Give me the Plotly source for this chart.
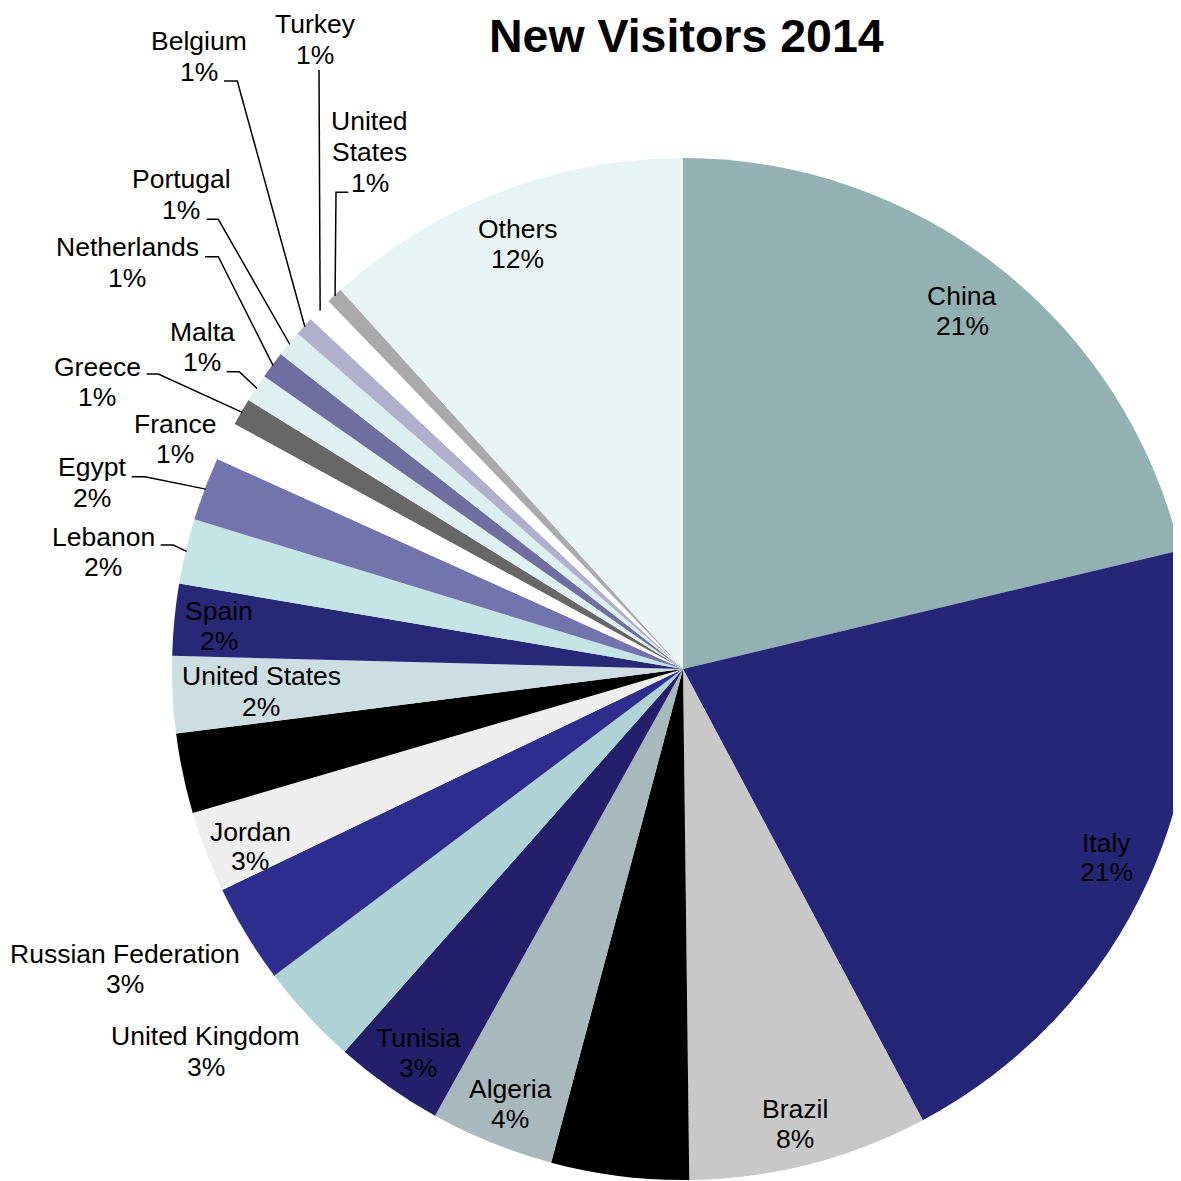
import math
import plotly.graph_objects as go

# ---------------- data ----------------
countries = ["China", "Italy", "Brazil", "Unlabeled A", "Algeria", "Tunisia",
             "United Kingdom", "Russian Federation", "Jordan", "Unlabeled B",
             "United States", "Spain", "Lebanon", "Egypt", "France", "Greece",
             "Malta", "Netherlands", "Portugal", "Belgium", "Turkey",
             "United States", "Others"]
shares = [21.27, 20.96, 7.58, 4.35, 3.91, 3.46,
          3.23, 3.13, 2.57, 2.53,
          2.43, 2.26, 2.06, 2.01, 1.22, 0.86,
          0.89, 0.86, 0.83, 0.61, 0.78,
          0.52, 11.69]
slice_colors = ["#93B0B2", "#262678", "#C8C8C8", "#000000", "#A9B8BC", "#231F6B",
                "#AFD3D5", "#2E2E8E", "#EEEEEE", "#000000",
                "#CCDEE1", "#282879", "#C4E4E6", "#7373AD", "#FFFFFF", "#676767",
                "#E0F0F1", "#6E6EA0", "#DCEEF0", "#B0B0CC", "#FFFFFF",
                "#AAAAAA", "#E8F4F4"]
# how each visible label name is broken into lines (None = no visible label)
label_names = [["China"], ["Italy"], ["Brazil"], None, ["Algeria"], ["Tunisia"],
               ["United Kingdom"], ["Russian Federation"], ["Jordan"], None,
               ["United States"], ["Spain"], ["Lebanon"], ["Egypt"], ["France"], ["Greece"],
               ["Malta"], ["Netherlands"], ["Portugal"], ["Belgium"], ["Turkey"],
               ["United", "States"], ["Others"]]
title_text = "New Visitors 2014"

# ---------------- layout / style ----------------
OFF = 8                                   # page offset of the figure (body margin)
W, H = 1186, 1173                         # figure size (px)
PCX, PCY, R = 683.0, 669.0, 511.0         # pie centre / radius in page px
CX, CY = PCX - OFF, PCY - OFF             # pie centre in figure px
FONT = "Liberation Sans, Arial, sans-serif"
FS = 26.5

# label placement (page px): slice index -> (centre x, baselines of each text line)
label_pos = {
    0: (962, [305, 335.7]),
    1: (1106, [852.3, 881.7]),
    2: (795, [1118, 1148]),
    4: (510, [1098, 1128]),
    5: (418, [1047.7, 1077.7]),
    6: (205.5, [1045.7, 1076]),
    7: (125, [963.3, 993.3]),
    8: (250, [841.7, 870.5]),
    10: (261, [685.7, 716]),
    11: (219, [620, 650]),
    12: (103.3, [546, 576]),
    13: (91.5, [476.7, 507.3]),
    14: (175, [433.3, 463.3]),
    15: (97, [376, 406]),
    16: (202, [341.7, 371.7]),
    17: (127, [256.7, 287.3]),
    18: (181.3, [188.3, 219.3]),
    19: (199, [50.7, 81.7]),
    20: (315, [33, 64]),
    21: (370, [130.7, 161.7, 192.7]),
    22: (517.5, [238.3, 268.3]),
}
# leader lines (page px): slice index -> points starting at label side
leader_pts = {
    12: [(160.7, 545), (173.3, 545)],
    13: [(131.7, 476.7), (145, 476.7)],
    15: [(146.7, 374), (158.3, 374)],
    16: [(226.7, 371.7), (239.3, 371.7)],
    17: [(205, 256.7), (218.3, 256.7)],
    18: [(206.7, 219.3), (218.3, 219.3)],
    19: [(224, 81), (237.3, 81)],
    20: [(319, 70)],
    21: [(348.3, 192.3), (336, 192.3)],
}


def fx(px):
    return (px - OFF) / W


def fy(py):
    return 1 - (py - OFF) / H


total = sum(shares)
pcts = [f"{round(v / total * 100):d}%" for v in shares]

fig = go.Figure(go.Pie(
    labels=[f"{i}:{c}" for i, c in enumerate(countries)],
    values=shares,
    sort=False,
    direction="clockwise",
    rotation=0,
    textinfo="none",
    hoverinfo="skip",
    marker=dict(colors=slice_colors, line=dict(width=0)),
    domain=dict(x=[max(0.0, (CX - R) / W), min(1.0, (CX + R) / W)],
                y=[max(0.0, 1 - (CY + R) / H), min(1.0, 1 - (CY - R) / H)]),
    showlegend=False,
))

annotations = []
for i, pos in label_pos.items():
    x, baselines = pos
    lines = label_names[i] + [pcts[i]]
    for txt, b in zip(lines, baselines):
        annotations.append(dict(
            x=fx(x), y=fy(b - 0.35 * FS), xref="paper", yref="paper",
            text=txt, showarrow=False, xanchor="center", yanchor="middle",
            font=dict(family=FONT, size=FS, color="#000000")))

annotations.append(dict(
    x=fx(687), y=1.0, xref="paper", yref="paper",
    text=f"<b>{title_text}</b>", showarrow=False, xanchor="center", yanchor="top",
    font=dict(family=FONT, size=46.5, color="#000000")))

shapes = []
cum = 0.0
mids = []
for v in shares:
    mids.append(360.0 * (cum + v / 2) / total)
    cum += v
for i, pts in leader_pts.items():
    a = math.radians(mids[i])
    end = (PCX + (R - 1) * math.sin(a), PCY - (R - 1) * math.cos(a))
    allp = pts + [end]
    path = "M " + " L ".join(f"{fx(px):.5f},{fy(py):.5f}" for px, py in allp)
    shapes.append(dict(type="path", path=path, xref="paper", yref="paper",
                       line=dict(color="#000000", width=1.5)))

fig.update_layout(
    width=W, height=H, autosize=False,
    margin=dict(l=0, r=0, t=0, b=0, pad=0),
    paper_bgcolor="#FFFFFF", plot_bgcolor="#FFFFFF",
    annotations=annotations, shapes=shapes,
    showlegend=False,
)

fig.write_html("out.html")
